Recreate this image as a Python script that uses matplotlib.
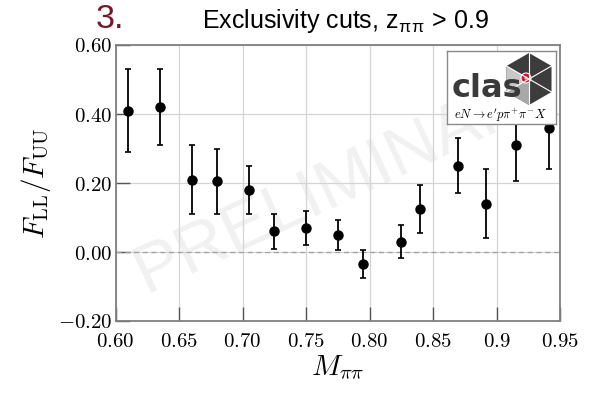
import numpy as np
import matplotlib
matplotlib.use('Agg')
import matplotlib.pyplot as plt
from matplotlib.patches import Polygon, Circle
from matplotlib.ticker import FixedLocator, FixedFormatter

plt.rcParams['mathtext.fontset'] = 'cm'
plt.rcParams['font.family'] = ['Liberation Sans', 'DejaVu Sans']

# double spin asymmetry vs dipion mass
m_pipi = [0.610, 0.635, 0.660, 0.680, 0.705, 0.725, 0.750, 0.775,
          0.795, 0.825, 0.840, 0.870, 0.892, 0.915, 0.941]
fll_fuu = [0.41, 0.42, 0.21, 0.205, 0.18, 0.06, 0.07, 0.05,
           -0.035, 0.03, 0.125, 0.25, 0.14, 0.31, 0.36]
err = [0.12, 0.11, 0.10, 0.095, 0.07, 0.05, 0.05, 0.044,
       0.041, 0.047, 0.07, 0.08, 0.10, 0.105, 0.12]

xticks = [0.60, 0.65, 0.70, 0.75, 0.80, 0.85, 0.90, 0.95]
xticklabels = ['0.60', '0.65', '0.70', '0.75', '0.80', '0.85', '0.9', '0.95']
yticks = [-0.20, 0.00, 0.20, 0.40, 0.60]
yticklabels = ['-0.20', '0.00', '0.20', '0.40', '0.60']

W, H = 599, 394
fig = plt.figure(figsize=(W / 100, H / 100), dpi=100)

def px_axes(x0, y0, x1, y1, **kw):
    # axes placed with pixel corners (y measured from the top)
    return fig.add_axes([x0 / W, 1 - y1 / H, (x1 - x0) / W, (y1 - y0) / H], **kw)

ax = px_axes(115.5, 45, 560, 321)
ax.set_xlim(0.60, 0.95)
ax.set_ylim(-0.20, 0.60)

ax.xaxis.set_major_locator(FixedLocator(xticks))
ax.xaxis.set_major_formatter(FixedFormatter(['$' + t + '$' for t in xticklabels]))
ax.yaxis.set_major_locator(FixedLocator(yticks))
ax.yaxis.set_major_formatter(FixedFormatter(['$' + t + '$' for t in yticklabels]))
ax.tick_params(direction='in', length=10, width=1, color='#555555', labelsize=15, pad=2)
ax.tick_params(axis='x', pad=8)

ax.grid(True, color='#d4d4d4', linewidth=0.9, zorder=0)
ax.set_axisbelow(True)
for s in ax.spines.values():
    s.set_color('#808080')
    s.set_linewidth(1.3)

ax.axhline(0.0, color='#a0a0a0', linewidth=0.9, linestyle=(0, (4, 3)), zorder=1)

# watermark
ax.text(0.53, 0.52, 'PRELIMINARY', transform=ax.transAxes, fontsize=50,
        color='#f1f1f1', rotation=25, ha='center', va='center',
        rotation_mode='anchor', zorder=0.5)

ax.errorbar(m_pipi, fll_fuu, yerr=err, fmt='o', color='black', markersize=6.5,
            elinewidth=1.3, capsize=2.5, capthick=1.2, zorder=3)

ax.set_xlabel(r'$M_{\pi\pi}$', fontsize=21, labelpad=2)
ax.set_ylabel(r'$F_{\rm LL}/F_{\rm UU}$', fontsize=21, labelpad=4)

fig.text(96 / W, 1 - 20 / H, '3.', fontsize=24.5, color='#7b1526', ha='left', va='center')
fig.text(345 / W, 1 - 21 / H, r'Exclusivity cuts, z$_{\mathregular{\pi\pi}}$ > 0.9', fontsize=18,
         ha='center', va='center')

# experiment logo
lg = px_axes(447, 51, 556, 124)
lg.set_xlim(0, 109)
lg.set_ylim(73, 0)
lg.set_xticks([])
lg.set_yticks([])
for s in lg.spines.values():
    s.set_color('#8a8a8a')
    s.set_linewidth(1.0)

cx, cy, r = 82, 28, 26
ang = np.radians([90, 30, -30, -90, -150, 150])
vx = cx + r * np.cos(ang)
vy = cy - r * np.sin(ang)
lg.add_patch(Polygon(np.column_stack([vx, vy]), closed=True, facecolor='#3c3c3c', edgecolor='none'))
lg.add_patch(Polygon([[cx, cy], [vx[3], vy[3]], [vx[4], vy[4]]], closed=True,
                     facecolor='#a8a8a8', edgecolor='none'))
lg.add_patch(Polygon([[cx, cy], [vx[4], vy[4]], [vx[5], vy[5]]], closed=True,
                     facecolor='#c8c8c8', edgecolor='none'))
for i in range(6):
    lg.plot([cx, vx[i]], [cy, vy[i]], color='white', linewidth=0.8)
lg.text(5, 46, 'clas', fontsize=23, fontweight='bold', color='#3a3a3a',
        family='DejaVu Sans', ha='left', va='baseline')
lg.add_patch(Circle((cx - 3, cy - 1), 5, facecolor='#d8102a', edgecolor='white', linewidth=0.8))
lg.add_patch(Circle((cx - 3, cy - 1), 1.6, facecolor='#ffb0b0', edgecolor='none'))
lg.text(53, 64, r"$eN \rightarrow e'p\pi^{+}\pi^{-}X$", fontsize=9, ha='center', va='center')

fig.savefig('out.png', dpi=100)
